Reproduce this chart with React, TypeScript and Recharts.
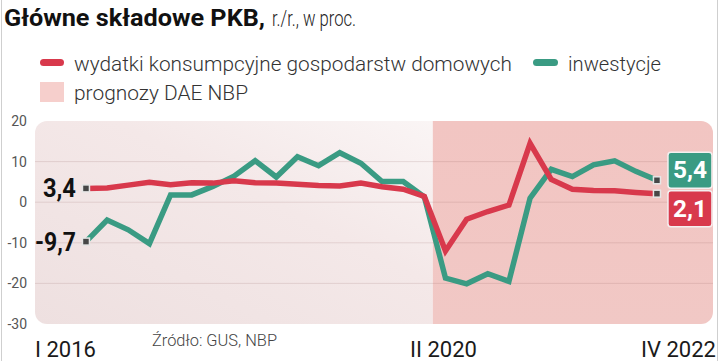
import React from 'react';
import { LineChart, Line, XAxis, YAxis, ReferenceArea, ReferenceLine } from 'recharts';

const quarters = [
  'I 2016', 'II 2016', 'III 2016', 'IV 2016',
  'I 2017', 'II 2017', 'III 2017', 'IV 2017',
  'I 2018', 'II 2018', 'III 2018', 'IV 2018',
  'I 2019', 'II 2019', 'III 2019', 'IV 2019',
  'I 2020', 'II 2020', 'III 2020', 'IV 2020',
  'I 2021', 'II 2021', 'III 2021', 'IV 2021',
  'I 2022', 'II 2022', 'III 2022', 'IV 2022',
];

// wydatki konsumpcyjne gospodarstw domowych
const consumption = [
  3.4, 3.5, 4.2, 4.9, 4.3, 4.8, 4.7, 5.3, 4.8, 4.7, 4.4, 4.1, 4.0, 4.7,
  3.8, 3.2, 1.4, -12.0, -4.2, -2.3, -0.7, 14.5, 5.6, 3.2, 2.9, 2.8, 2.4, 2.1,
];

// inwestycje
const investment = [
  -9.7, -4.4, -6.8, -10.2, 1.8, 1.8, 3.9, 6.4, 10.2, 6.2, 11.2, 9.0, 12.2, 9.6,
  5.1, 5.1, 1.3, -18.7, -20.1, -17.6, -19.5, 1.0, 8.1, 6.3, 9.2, 10.2, 7.6, 5.4,
];

const yTicks = [-30, -20, -10, 0, 10, 20];
const gridValues = [10, 0, -10, -20];
const xLabelIndex = [0, 17, 27];
const forecastFrom = 16.4;

const RED = '#d8394c';
const GREEN = '#3a9b83';
const FONT = 'Roboto, "Open Sans", sans-serif';

const data = quarters.map((q, i) => ({
  i,
  q,
  cons: consumption[i],
  inv: investment[i],
}));

const last = quarters.length - 1;
const fmt = (v: number) => v.toFixed(1).replace('.', ',');

const roundedPath = (x: number, y: number, w: number, h: number, rl: number, rr: number) =>
  `M${x + rl},${y} H${x + w - rr} A${rr},${rr} 0 0 1 ${x + w},${y + rr} V${y + h - rr} ` +
  `A${rr},${rr} 0 0 1 ${x + w - rr},${y + h} H${x + rl} A${rl},${rl} 0 0 1 ${x},${y + h - rl} ` +
  `V${y + rl} A${rl},${rl} 0 0 1 ${x + rl},${y} Z`;

const pastShape = (p: any) => (
  <path d={roundedPath(p.x, p.y, p.width, p.height, 12, 0)} fill="url(#pastGrad)" />
);
const forecastShape = (p: any) => (
  <path d={roundedPath(p.x, p.y, p.width, p.height, 0, 12)} fill="url(#fcGrad)" />
);

const Marker = ({ cx, cy }: { cx: number; cy: number }) => (
  <rect x={cx - 3.5} y={cy - 3.5} width={7} height={7} fill="#474747" stroke="#e6e6e6" strokeWidth={1.5} />
);

const makeDot = (series: 'cons' | 'inv') => (props: any) => {
  const { cx, cy, index, value } = props;
  if (index !== 0 && index !== last) return <g key={`d-${series}-${index}`} />;
  const color = series === 'cons' ? RED : GREEN;
  if (index === 0) {
    return (
      <g key={`d-${series}-${index}`}>
        <Marker cx={cx} cy={cy} />
        <text
          x={cx - 10}
          y={cy + 9}
          textAnchor="end"
          fontFamily={FONT}
          fontWeight={700}
          fontSize={25}
          fill="#111"
          textLength={series === 'cons' ? 33 : 41}
          lengthAdjust="spacingAndGlyphs"
        >
          {fmt(value)}
        </text>
      </g>
    );
  }
  const boxY = series === 'inv' ? cy - 28 : cy - 3;
  return (
    <g key={`d-${series}-${index}`}>
      <Marker cx={cx} cy={cy} />
      <rect x={cx + 11} y={boxY} width={44} height={36} rx={3} fill={color} stroke="#f4f0f0" strokeWidth={1.5} />
      <text
        x={cx + 33}
        y={boxY + 26}
        textAnchor="middle"
        fontFamily={FONT}
        fontWeight={700}
        fontSize={24}
        fill="#fff"
        textLength={34}
        lengthAdjust="spacingAndGlyphs"
      >
        {fmt(value)}
      </text>
    </g>
  );
};

const YTick = (props: any) => {
  const { y, payload } = props;
  return (
    <text x={27} y={y + 5} textAnchor="end" fontFamily={FONT} fontSize={14} fill="#555">
      {payload.value}
    </text>
  );
};

const XTick = (props: any) => {
  const { x, y, payload } = props;
  const v = payload.value;
  let anchor: 'start' | 'middle' | 'end' = 'middle';
  let tx = x - 2;
  if (v === 0) {
    anchor = 'end';
    tx = x + 10;
  } else if (v === last) {
    anchor = 'end';
    tx = x + 59;
  }
  return (
    <text x={tx} y={y + 25} textAnchor={anchor} fontFamily={FONT} fontSize={22} fill="#1a1a1a">
      {quarters[v]}
    </text>
  );
};

export default function App() {
  return (
    <div style={{ position: 'relative', width: 720, height: 361, background: '#fff', overflow: 'hidden' }}>
      <style>{'body{margin:0}'}</style>
      <LineChart
        width={720}
        height={361}
        data={data}
        margin={{ top: 121, right: 7, bottom: 0, left: 0 }}
      >
        <defs>
          <linearGradient id="pastGrad" x1="0" y1="1" x2="1" y2="0">
            <stop offset="0" stopColor="#eee0e0" />
            <stop offset="0.6" stopColor="#f4e8e8" />
            <stop offset="1" stopColor="#faf5f5" />
          </linearGradient>
          <linearGradient id="fcGrad" x1="0" y1="0" x2="0" y2="1">
            <stop offset="0" stopColor="#f2c5c2" />
            <stop offset="1" stopColor="#f1c8c5" />
          </linearGradient>
        </defs>
        <XAxis
          type="number"
          dataKey="i"
          domain={[-2.41, 29.65]}
          allowDataOverflow
          ticks={xLabelIndex}
          tick={<XTick />}
          tickLine={false}
          axisLine={false}
          height={37}
          interval={0}
        />
        <YAxis
          type="number"
          domain={[-30, 20]}
          ticks={yTicks}
          tick={<YTick />}
          tickLine={false}
          axisLine={false}
          width={35}
          interval={0}
        />
        <ReferenceArea x1={-2.41} x2={forecastFrom} y1={-30} y2={20} shape={pastShape} ifOverflow="visible" />
        <ReferenceArea x1={forecastFrom} x2={29.65} y1={-30} y2={20} shape={forecastShape} ifOverflow="visible" />
        {gridValues.map((g) => (
          <ReferenceLine key={g} y={g} stroke="#8a5a5a" strokeOpacity={0.16} strokeWidth={1} ifOverflow="visible" />
        ))}
        <Line
          type="linear"
          dataKey="inv"
          stroke={GREEN}
          strokeWidth={5.5}
          strokeLinejoin="miter"
          dot={makeDot('inv')}
          activeDot={false}
          isAnimationActive={false}
        />
        <Line
          type="linear"
          dataKey="cons"
          stroke={RED}
          strokeWidth={5.5}
          strokeLinejoin="miter"
          dot={makeDot('cons')}
          activeDot={false}
          isAnimationActive={false}
        />
      </LineChart>

      <svg
        width={720}
        height={361}
        style={{ position: 'absolute', left: 0, top: 0, pointerEvents: 'none' }}
      >
        <line x1={1.5} y1={0} x2={1.5} y2={361} stroke="#cfcfcf" strokeWidth={1} />
        <line x1={717.5} y1={0} x2={717.5} y2={361} stroke="#cfcfcf" strokeWidth={1} />
        <text x={4} y={26} fontFamily={FONT} fontWeight={700} fontSize={23.5} fill="#111" textLength={261} lengthAdjust="spacingAndGlyphs">
          Główne składowe PKB,
        </text>
        <text x={272} y={26} fontFamily={FONT} fontWeight={300} fontSize={22} fill="#222" textLength={84} lengthAdjust="spacingAndGlyphs">
          r./r., w proc.
        </text>

        <rect x={40} y={59} width={24} height={7} rx={3.5} fill={RED} />
        <text x={74} y={71} fontFamily={FONT} fontWeight={300} fontSize={20} fill="#333" textLength={438} lengthAdjust="spacingAndGlyphs">
          wydatki konsumpcyjne gospodarstw domowych
        </text>
        <rect x={533} y={59} width={25} height={7} rx={3.5} fill={GREEN} />
        <text x={568} y={71} fontFamily={FONT} fontWeight={300} fontSize={20} fill="#333" textLength={93} lengthAdjust="spacingAndGlyphs">
          inwestycje
        </text>
        <rect x={40} y={82} width={24} height={20} fill="#f6cfcc" />
        <text x={74} y={100} fontFamily={FONT} fontWeight={300} fontSize={20} fill="#333" textLength={174} lengthAdjust="spacingAndGlyphs">
          prognozy DAE NBP
        </text>

        <text x={152} y={346} fontFamily={FONT} fontWeight={300} fontSize={16} fill="#444" textLength={125} lengthAdjust="spacingAndGlyphs">
          Źródło: GUS, NBP
        </text>
      </svg>
    </div>
  );
}
